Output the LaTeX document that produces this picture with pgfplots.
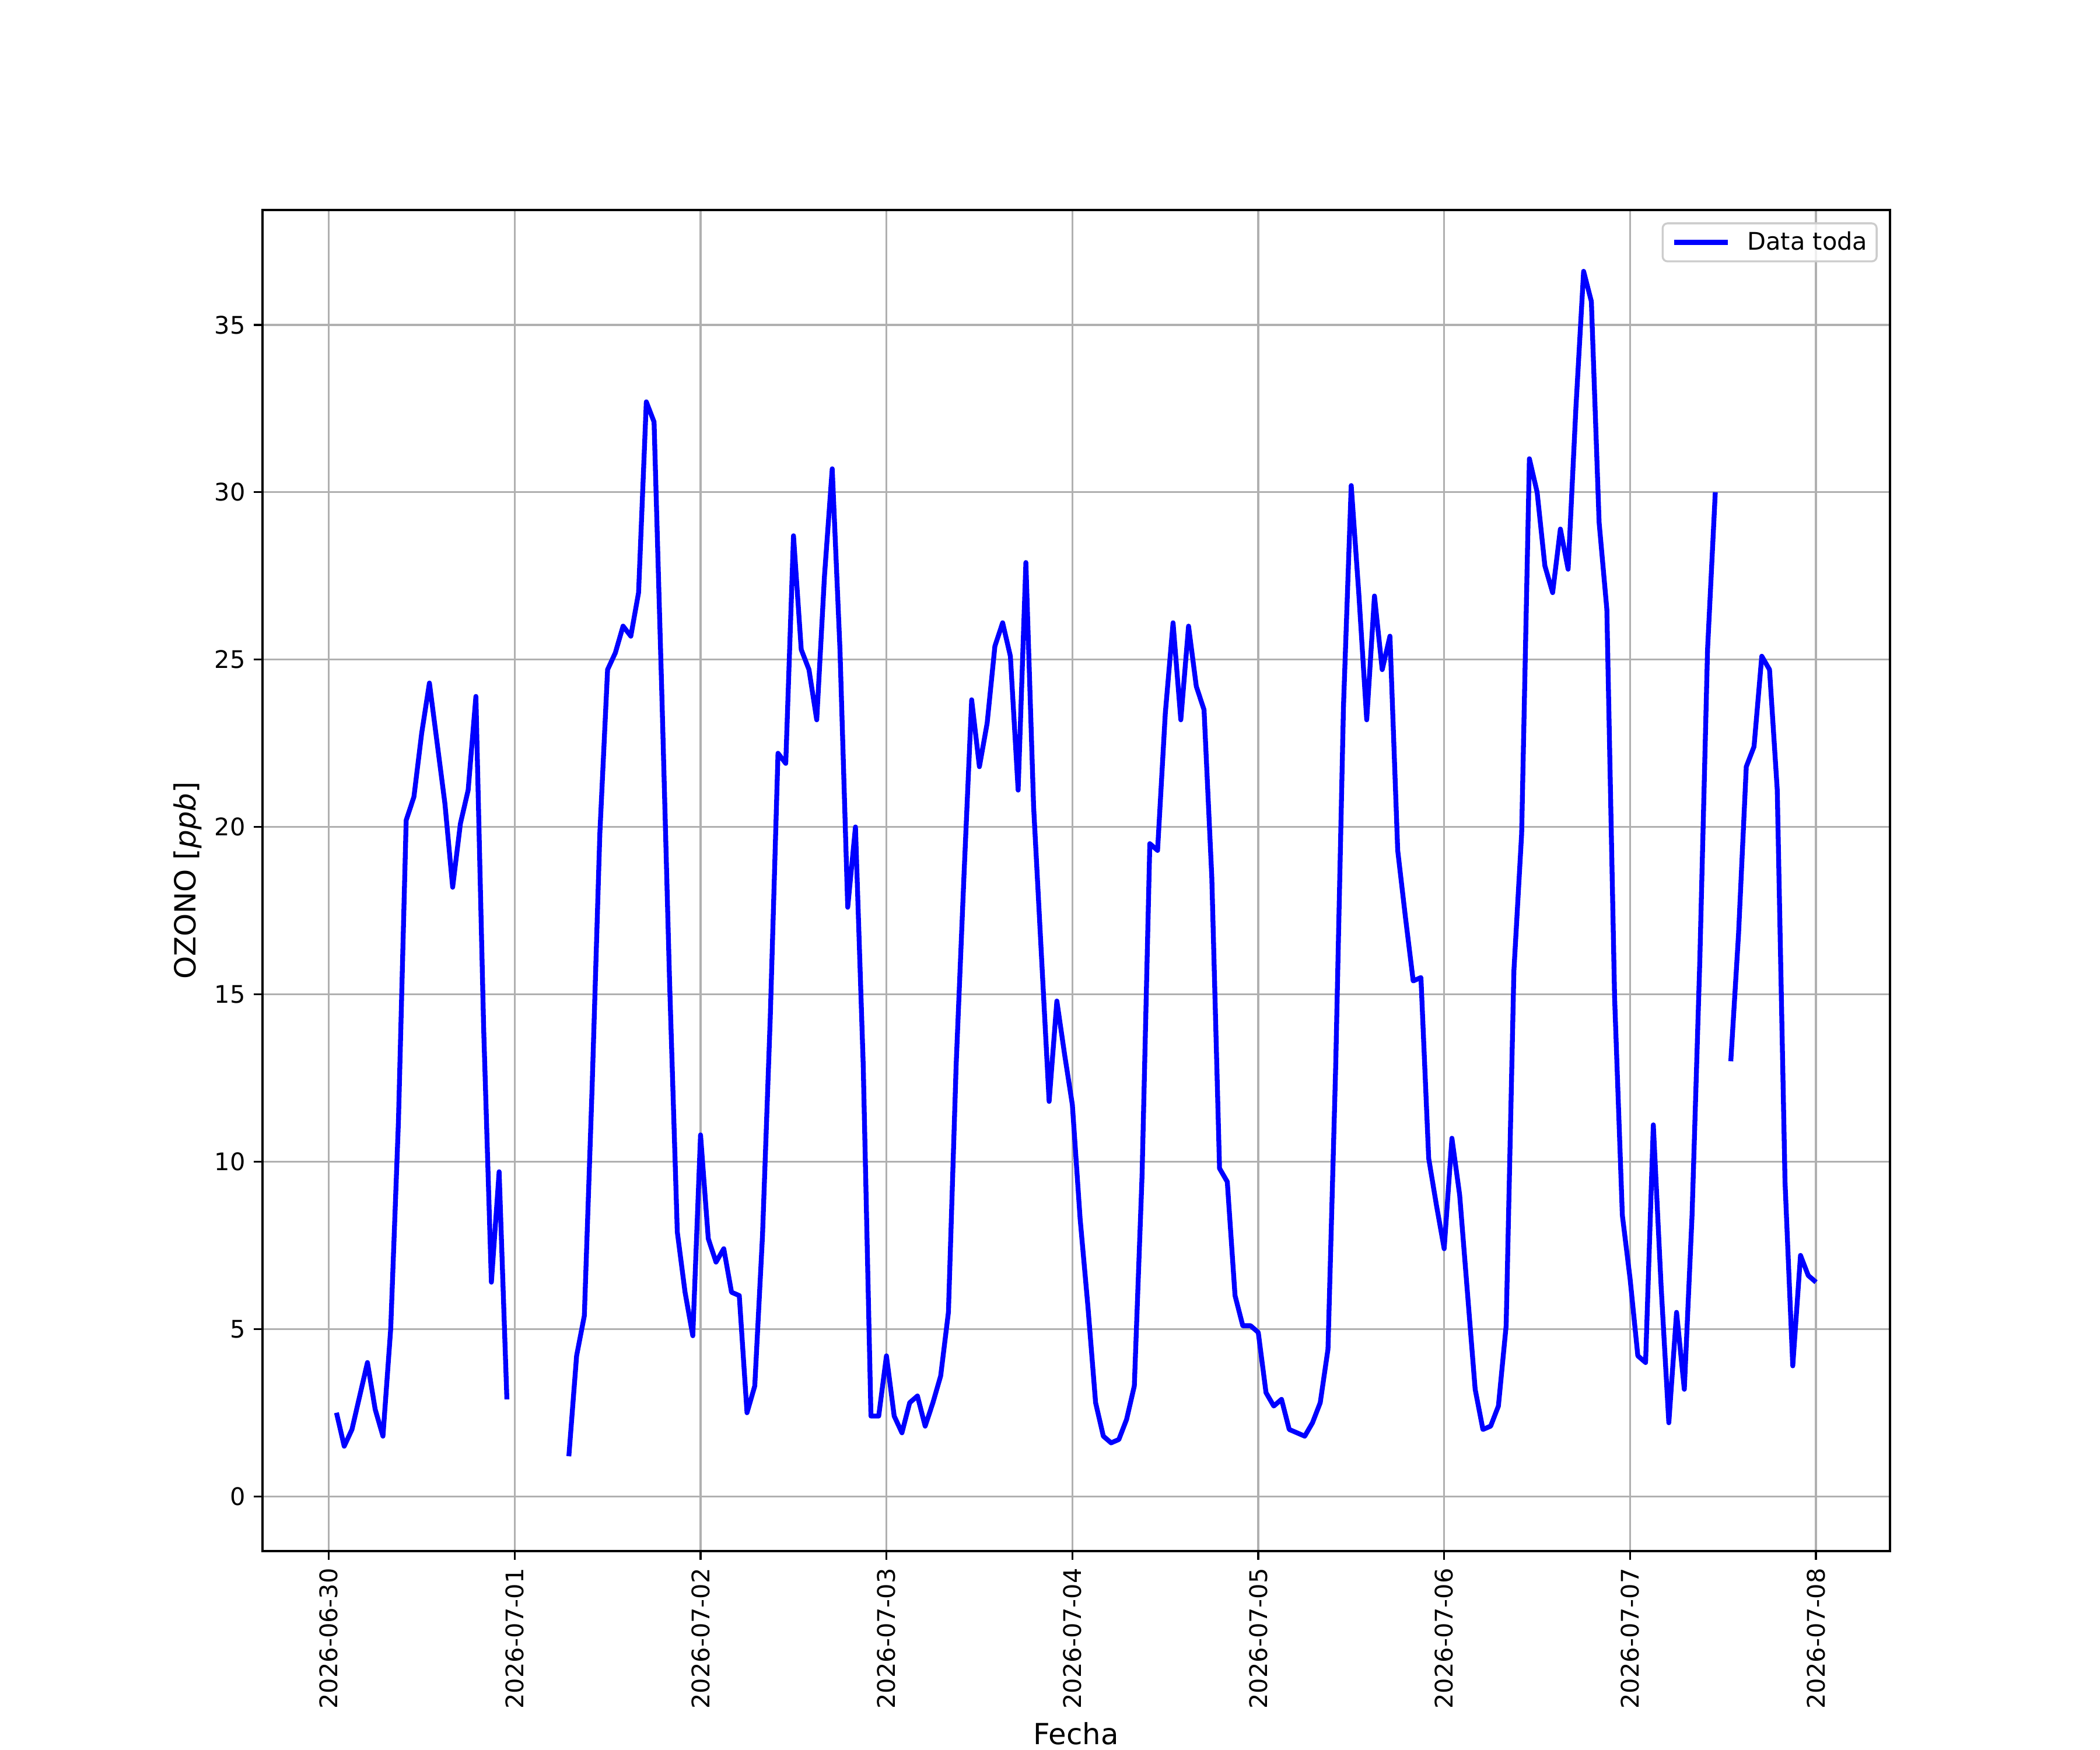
\documentclass[border=0pt]{standalone}
\usepackage{fontspec}
\setmainfont{DejaVu Sans}
\usepackage{pgfplots}
\usepackage{pgfplotstable}
\pgfplotsset{compat=1.18}
\pgfplotstableread{
h v
1 2.5
2 1.5
3 2.0
4 3.0
5 4.0
6 2.6
7 1.8
8 5.0
9 11.2
10 20.2
11 20.9
12 22.8
13 24.3
14 22.5
15 20.7
16 18.2
17 20.1
18 21.1
19 23.9
20 14.0
21 6.4
22 9.7
23 2.9
24 nan
31 1.2
32 4.2
33 5.4
34 12.2
35 19.8
36 24.7
37 25.2
38 26.0
39 25.7
40 27.0
41 32.7
42 32.1
43 24.0
44 15.4
45 7.9
46 6.1
47 4.8
48 10.8
49 7.7
50 7.0
51 7.4
52 6.1
53 6.0
54 2.5
55 3.3
56 7.8
57 14.3
58 22.2
59 21.9
60 28.7
61 25.3
62 24.7
63 23.2
64 27.5
65 30.7
66 25.3
67 17.6
68 20.0
69 12.9
70 2.4
71 2.4
72 4.2
73 2.4
74 1.9
75 2.8
76 3.0
77 2.1
78 2.8
79 3.6
80 5.5
81 12.9
82 18.5
83 23.8
84 21.8
85 23.1
86 25.4
87 26.1
88 25.1
89 21.1
90 27.9
91 20.6
92 16.2
93 11.8
94 14.8
95 13.2
96 11.7
97 8.3
98 5.7
99 2.8
100 1.8
101 1.6
102 1.7
103 2.3
104 3.3
105 9.6
106 19.5
107 19.3
108 23.4
109 26.1
110 23.2
111 26.0
112 24.2
113 23.5
114 18.5
115 9.8
116 9.4
117 6.0
118 5.1
119 5.1
120 4.9
121 3.1
122 2.7
123 2.9
124 2.0
125 1.9
126 1.8
127 2.2
128 2.8
129 4.4
130 12.9
131 23.6
132 30.2
133 26.9
134 23.2
135 26.9
136 24.7
137 25.7
138 19.3
139 17.3
140 15.4
141 15.5
142 10.1
143 8.7
144 7.4
145 10.7
146 9.0
147 6.1
148 3.2
149 2.0
150 2.1
151 2.7
152 5.1
153 15.7
154 19.8
155 31.0
156 30.0
157 27.8
158 27.0
159 28.9
160 27.7
161 32.5
162 36.6
163 35.7
164 29.1
165 26.5
166 14.9
167 8.4
168 6.5
169 4.2
170 4.0
171 11.1
172 6.3
173 2.2
174 5.5
175 3.2
176 8.4
177 16.0
178 25.3
179 30.0
180 nan
181 13.0
182 16.8
183 21.8
184 22.4
185 25.1
186 24.7
187 21.1
188 9.4
189 3.9
190 7.2
191 6.6
192 6.4
}\ozono

\begin{document}
\begin{tikzpicture}
\useasboundingbox (0,0) rectangle (867.24pt,722.7pt);
\begin{axis}[
  at={(108.4pt,82.15pt)}, anchor=south west,
  scale only axis, width=672.1pt, height=553.8pt,
  xmin=-8.55, xmax=201.55, ymin=-1.633, ymax=38.43,
  xtick={0,24,48,72,96,120,144,168,192},
  xticklabels={2026-06-30,2026-07-01,2026-07-02,2026-07-03,2026-07-04,2026-07-05,2026-07-06,2026-07-07,2026-07-08},
  ytick={0,5,10,15,20,25,30,35},
  grid=major,
  grid style={color=black!31, line width=0.8pt},
  axis line style={line width=0.8pt},
  tick style={line width=0.8pt, color=black},
  major tick length=3.5pt, tick align=outside,
  xtick pos=bottom, ytick pos=left,
  x tick label style={rotate=90, anchor=east, font=\fontsize{10}{12}\selectfont},
  y tick label style={font=\fontsize{10}{12}\selectfont},
  /pgf/number format/assume math mode=true,
  xlabel={Fecha}, ylabel={OZONO [\textit{ppb}]},
  label style={font=\fontsize{12}{14}\selectfont},
  xlabel style={at={(axis description cs:0.5,-0.1275)}, anchor=north, inner sep=0pt},
  ylabel style={at={(axis description cs:-0.0459,0.5)}, anchor=center, inner sep=0pt},
  unbounded coords=jump,
  legend style={at={(1,1)}, anchor=north east, xshift=-5.1pt, yshift=-5.1pt,
    draw=black!20, line width=0.8pt, rounded corners=2pt,
    fill=white, fill opacity=0.8, text opacity=1,
    inner xsep=3.8pt, inner ysep=3.3pt, column sep=7.2pt,
    nodes={inner sep=0pt},
    font=\fontsize{10}{12}\selectfont},
  legend image code/.code={\draw[#1, line cap=butt] (0pt,0pt) -- (22pt,0pt);},
  legend cell align=left,
]
\addplot[color=blue, line width=2pt, line join=round] table[x=h,y=v]{\ozono};
\addlegendentry{Data toda}
\end{axis}
\end{tikzpicture}
\end{document}
